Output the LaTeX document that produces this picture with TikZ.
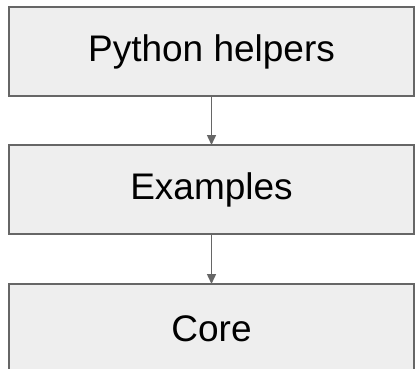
\documentclass[tikz,border=0pt]{standalone}
\usepackage{fontspec}
\setmainfont{Liberation Sans}
\usetikzlibrary{arrows.meta,positioning}
\definecolor{boxfill}{HTML}{EEEEEE}
\definecolor{boxline}{HTML}{666666}

\begin{document}
\begin{tikzpicture}[
x=1pt, y=1pt,
node distance=49pt,
layer/.style={
    draw=boxline,
    fill=boxfill,
    line width=1.5pt,
    outer sep=0pt,
    minimum width=405pt,
    minimum height=89pt,
    font=\fontsize{37}{42}\selectfont
},
arrow/.style={-{Triangle[length=10pt,width=9pt]}, draw=boxline, fill=boxline, line width=1.5pt}
]
\useasboundingbox (0,0) rectangle (415,368);
\clip (0,0) rectangle (415,368);

\node[layer] (helpers) at (211.5,316.5) {Python helpers};
\node[layer, below=of helpers] (examples) {Examples};
\node[layer, below=50pt of examples] (core) {Core};

\draw[arrow] (helpers) -- (examples);
\draw[arrow] (examples) -- (core);

\end{tikzpicture}
\end{document}
